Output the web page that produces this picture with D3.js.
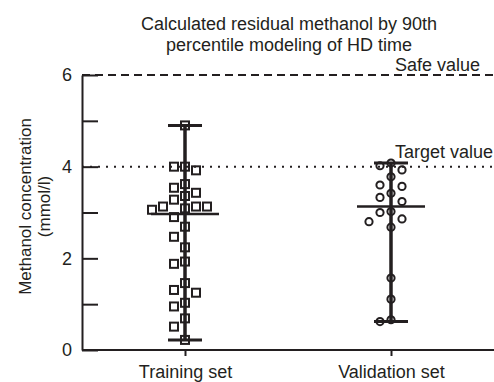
<!DOCTYPE html>
<html>
<head>
<meta charset="utf-8">
<script src="https://cdn.jsdelivr.net/npm/d3@7"></script>
<style>
  body { margin: 0; background: #fff; }
  text { font-family: "Liberation Sans", Arial, sans-serif; fill: #231f20; }
</style>
</head>
<body>
<div id="chart"></div>
<script>
const width = 494;
const height = 382;

// data
const groups = ["Training set", "Validation set"];
const trainingValues = [4.9, 4.0, 4.0, 3.92, 3.62, 3.54, 3.43, 3.36, 3.28, 3.13, 3.09, 3.06, 3.13, 3.13,
  2.9, 2.69, 2.47, 2.24, 1.93, 1.88, 1.46, 1.31, 1.25, 1.03, 0.95, 0.69, 0.51, 0.22];
const validationValues = [4.08, 4.02, 3.93, 3.78, 3.6, 3.57, 3.42, 3.33, 3.24, 3.02, 3.0, 2.86, 2.8, 2.68,
  1.57, 1.11, 0.66, 0.62];
const medians = [2.97, 3.13];
const yTicks = [0, 1, 2, 3, 4, 5, 6];
const safeValue = 6;
const targetValue = 4;
const titleLines = ["Calculated residual methanol by 90th", "percentile modeling of HD time"];
const yLabelLines = ["Methanol concentration", "(mmol/l)"];

const ink = "#231f20";
const margin = {top: 75, right: 0, bottom: 32, left: 82};

const svg = d3.select("#chart")
  .append("svg")
  .attr("width", width)
  .attr("height", height);

const x = d3.scalePoint()
  .domain(groups)
  .range([margin.left, width - margin.right])
  .padding(0.5);

const y = d3.scaleLinear()
  .domain([0, 6])
  .range([height - margin.bottom, margin.top]);

// title
svg.append("text")
  .attr("text-anchor", "middle")
  .style("font-size", "18px")
  .selectAll("tspan")
  .data(titleLines)
  .enter()
  .append("tspan")
  .attr("x", 289)
  .attr("y", (d, i) => 30 + i * 21)
  .text(d => d);

// reference lines
svg.append("line")
  .attr("x1", margin.left).attr("x2", width)
  .attr("y1", y(safeValue)).attr("y2", y(safeValue))
  .attr("stroke", ink).attr("stroke-width", 2)
  .attr("stroke-dasharray", "8,5");

svg.append("line")
  .attr("x1", margin.left).attr("x2", width)
  .attr("y1", y(targetValue)).attr("y2", y(targetValue))
  .attr("stroke", ink).attr("stroke-width", 2)
  .attr("stroke-dasharray", "2,6");

svg.append("text")
  .attr("x", 480).attr("y", y(safeValue) - 4)
  .attr("text-anchor", "end")
  .style("font-size", "18px")
  .text("Safe value");

svg.append("text")
  .attr("x", 493).attr("y", y(targetValue) - 9)
  .attr("text-anchor", "end")
  .style("font-size", "18px")
  .text("Target value");

// axes
const yAxis = svg.append("g")
  .attr("transform", `translate(${margin.left},0)`)
  .call(d3.axisLeft(y)
    .tickValues(yTicks)
    .tickSize(-16)
    .tickSizeOuter(0)
    .tickPadding(10)
    .tickFormat(d => d % 2 === 0 ? d : ""));

const xAxis = svg.append("g")
  .attr("transform", `translate(0,${y(0)})`)
  .call(d3.axisBottom(x)
    .tickSize(6)
    .tickSizeOuter(0)
    .tickPadding(9));

[yAxis, xAxis].forEach(g => {
  g.select(".domain").attr("stroke", ink).attr("stroke-width", 2);
  g.selectAll(".tick line").attr("stroke", ink).attr("stroke-width", 2);
  g.selectAll(".tick text")
    .style("font-size", "18px")
    .style("font-family", '"Liberation Sans", Arial, sans-serif')
    .attr("fill", ink);
});
xAxis.select(".domain").attr("d", `M${margin.left},0H${width}`);

// y label
svg.append("text")
  .attr("transform", `translate(0,${(y(0) + y(6)) / 2 - 6}) rotate(-90)`)
  .attr("text-anchor", "middle")
  .style("font-size", "17px")
  .selectAll("tspan")
  .data(yLabelLines)
  .enter()
  .append("tspan")
  .attr("x", 0)
  .attr("y", (d, i) => 31 + i * 19)
  .text(d => d);

// simple swarm: each point takes the nearest free slot beside the centre
function swarm(values, size, step) {
  const placed = [];
  const order = values.map((v, i) => i).sort((a, b) => values[b] - values[a]);
  const offsets = new Array(values.length);
  order.forEach(i => {
    const py = y(values[i]);
    for (let k = 0; k < 40; k++) {
      const dx = (k % 2 === 0 ? 1 : -1) * Math.ceil(k / 2) * step;
      const hit = placed.some(p => Math.abs(p.dx - dx) < size && Math.abs(p.y - py) < size);
      if (!hit) {
        placed.push({dx: dx, y: py});
        offsets[i] = dx;
        break;
      }
    }
  });
  return offsets;
}

const sets = [trainingValues, validationValues];

sets.forEach((vals, gi) => {
  const cx = x(groups[gi]);
  const [lo, hi] = d3.extent(vals);
  const g = svg.append("g");

  // range bar
  g.append("line")
    .attr("x1", cx).attr("x2", cx)
    .attr("y1", y(lo)).attr("y2", y(hi))
    .attr("stroke", ink).attr("stroke-width", 3.5);
  g.selectAll(".cap")
    .data([lo, hi])
    .enter()
    .append("line")
    .attr("x1", cx - 17).attr("x2", cx + 17)
    .attr("y1", d => y(d)).attr("y2", d => y(d))
    .attr("stroke", ink).attr("stroke-width", 3);
  g.append("line")
    .attr("x1", cx - 34).attr("x2", cx + 34)
    .attr("y1", y(medians[gi])).attr("y2", y(medians[gi]))
    .attr("stroke", ink).attr("stroke-width", 2.5);
});

// training points: squares
const offT = swarm(trainingValues, 11, 5.5);
svg.append("g")
  .selectAll("rect")
  .data(trainingValues)
  .enter()
  .append("rect")
  .attr("x", (d, i) => x(groups[0]) + offT[i] - 4)
  .attr("y", d => y(d) - 4)
  .attr("width", 8)
  .attr("height", 8)
  .attr("fill", "none")
  .attr("stroke", ink)
  .attr("stroke-width", 2);

// validation points: circles
const offV = swarm(validationValues, 10.5, 5.5);
svg.append("g")
  .selectAll("circle")
  .data(validationValues)
  .enter()
  .append("circle")
  .attr("cx", (d, i) => x(groups[1]) + offV[i])
  .attr("cy", d => y(d))
  .attr("r", 3.6)
  .attr("fill", "none")
  .attr("stroke", ink)
  .attr("stroke-width", 2);
</script>
</body>
</html>
